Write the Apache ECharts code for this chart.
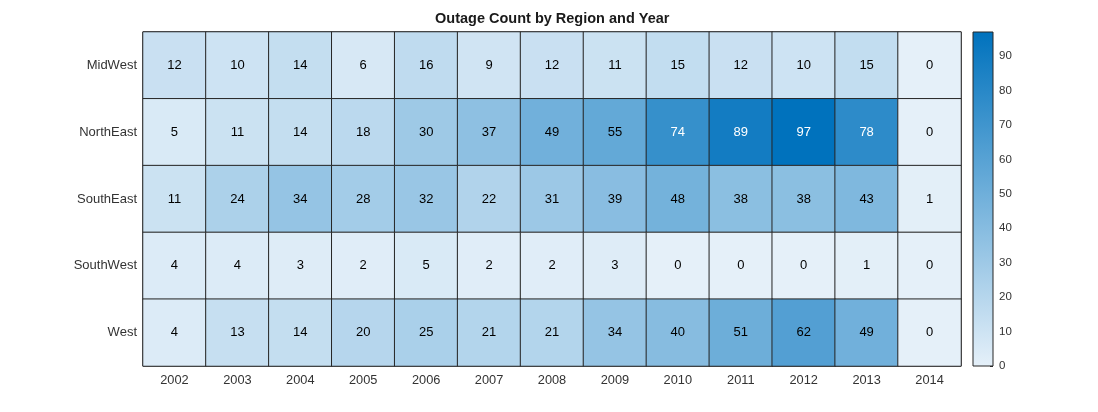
<!DOCTYPE html>
<html><head><meta charset="utf-8">
<script src="https://cdn.jsdelivr.net/npm/echarts@6/dist/echarts.min.js"></script>
<style>html,body{margin:0;padding:0;background:#fff}#c{width:1098px;height:412px}</style>
</head><body><div id="c"></div>
<script>
const years = ['2002','2003','2004','2005','2006','2007','2008','2009','2010','2011','2012','2013','2014'];
const regions = ['MidWest','NorthEast','SouthEast','SouthWest','West'];
const midWest   = [12,10,14,6,16,9,12,11,15,12,10,15,0];
const northEast = [5,11,14,18,30,37,49,55,74,89,97,78,0];
const southEast = [11,24,34,28,32,22,31,39,48,38,38,43,1];
const southWest = [4,4,3,2,5,2,2,3,0,0,0,1,0];
const west      = [4,13,14,20,25,21,21,34,40,51,62,49,0];
const colorMin = 0, colorMax = 97;
const colorTicks = 10;

const rows = [midWest, northEast, southEast, southWest, west];
const data = [];
rows.forEach((row, r) => row.forEach((v, c) => {
  data.push({value: [c, r, v], label: {color: v >= 70 ? '#ffffff' : '#000000'}});
}));

const FF = 'Liberation Sans, Arial, sans-serif';
const lowC = '#E5F0F9', highC = '#0072BD';
const chart = echarts.init(document.getElementById('c'));
chart.setOption({
  animation: false,
  title: {text: 'Outage Count by Region and Year', left: 435, top: 11, padding: 0,
    textStyle: {fontFamily: FF, fontSize: 14.5, fontWeight: 'bold', color: '#1a1a1a'}},
  grid: [
    {left: 143, right: 137, top: 32, bottom: 46, show: true, borderColor: '#262626', borderWidth: 1, backgroundColor: 'transparent'},
    {left: 973, width: 20, top: 32, bottom: 46, show: true, borderColor: '#262626', borderWidth: 1, backgroundColor: 'transparent', z: 5}
  ],
  xAxis: [
    {type: 'category', data: years, gridIndex: 0, axisLine: {show: false}, axisTick: {show: false},
      axisLabel: {margin: 8, fontSize: 12.8, color: '#333333', fontFamily: FF}, splitLine: {show: false}},
    {type: 'category', data: ['c'], gridIndex: 1, show: false}
  ],
  yAxis: [
    {type: 'category', data: regions, inverse: true, gridIndex: 0, axisLine: {show: false}, axisTick: {show: false},
      axisLabel: {margin: 6, fontSize: 13, color: '#333333', fontFamily: FF}, splitLine: {show: false}},
    {type: 'value', gridIndex: 1, min: colorMin, max: colorMax, interval: colorTicks, position: 'right',
      axisLine: {show: false}, splitLine: {show: false},
      axisTick: {show: true, inside: true, length: 3, lineStyle: {color: '#262626'}},
      axisLabel: {margin: 6, fontSize: 11.5, color: '#333333', fontFamily: FF, showMaxLabel: false}}
  ],
  visualMap: {show: false, min: colorMin, max: colorMax, seriesIndex: 0, dimension: 2,
    inRange: {color: [lowC, highC]}},
  series: [
    {type: 'heatmap', xAxisIndex: 0, yAxisIndex: 0, data: data,
      itemStyle: {borderColor: '#262626', borderWidth: 1},
      label: {show: true, fontSize: 13, fontFamily: FF},
      emphasis: {disabled: true}},
    {type: 'bar', xAxisIndex: 1, yAxisIndex: 1, data: [colorMax], barWidth: '100%',
      itemStyle: {color: new echarts.graphic.LinearGradient(0, 0, 0, 1, [{offset: 0, color: highC}, {offset: 1, color: lowC}])},
      silent: true}
  ]
});
</script></body></html>
